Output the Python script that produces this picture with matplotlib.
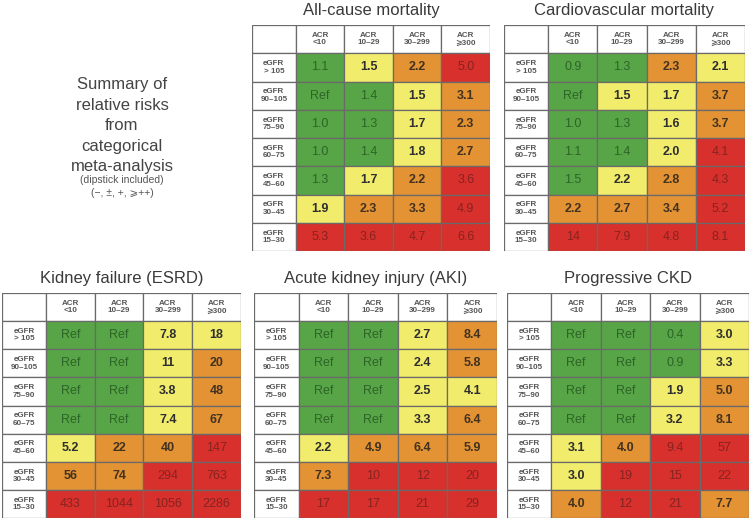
import matplotlib.pyplot as plt
from matplotlib.patches import Rectangle

plt.rcParams['font.family'] = ['Liberation Sans', 'DejaVu Sans']

col_labels = ['ACR\n<10', 'ACR\n10–29', 'ACR\n30–299', 'ACR\n⩾300']
row_labels = ['eGFR\n> 105', 'eGFR\n90–105', 'eGFR\n75–90', 'eGFR\n60–75',
              'eGFR\n45–60', 'eGFR\n30–45', 'eGFR\n15–30']

titles = ['All-cause mortality', 'Cardiovascular mortality', 'Kidney failure (ESRD)',
          'Acute kidney injury (AKI)', 'Progressive CKD']

allcause_vals = [['1.1', '1.5', '2.2', '5.0'],
                 ['Ref', '1.4', '1.5', '3.1'],
                 ['1.0', '1.3', '1.7', '2.3'],
                 ['1.0', '1.4', '1.8', '2.7'],
                 ['1.3', '1.7', '2.2', '3.6'],
                 ['1.9', '2.3', '3.3', '4.9'],
                 ['5.3', '3.6', '4.7', '6.6']]
allcause_cat = ['gyor', 'ggyo', 'ggyo', 'ggyo', 'gyor', 'yoor', 'rrrr']

cardio_vals = [['0.9', '1.3', '2.3', '2.1'],
               ['Ref', '1.5', '1.7', '3.7'],
               ['1.0', '1.3', '1.6', '3.7'],
               ['1.1', '1.4', '2.0', '4.1'],
               ['1.5', '2.2', '2.8', '4.3'],
               ['2.2', '2.7', '3.4', '5.2'],
               ['14', '7.9', '4.8', '8.1']]
cardio_cat = ['ggoy', 'gyyo', 'ggyo', 'ggyr', 'gyor', 'ooor', 'rrrr']

esrd_vals = [['Ref', 'Ref', '7.8', '18'],
             ['Ref', 'Ref', '11', '20'],
             ['Ref', 'Ref', '3.8', '48'],
             ['Ref', 'Ref', '7.4', '67'],
             ['5.2', '22', '40', '147'],
             ['56', '74', '294', '763'],
             ['433', '1044', '1056', '2286']]
esrd_cat = ['ggyy', 'ggyo', 'ggyo', 'ggyo', 'yoor', 'oorr', 'rrrr']

aki_vals = [['Ref', 'Ref', '2.7', '8.4'],
            ['Ref', 'Ref', '2.4', '5.8'],
            ['Ref', 'Ref', '2.5', '4.1'],
            ['Ref', 'Ref', '3.3', '6.4'],
            ['2.2', '4.9', '6.4', '5.9'],
            ['7.3', '10', '12', '20'],
            ['17', '17', '21', '29']]
aki_cat = ['ggyo', 'ggyo', 'ggyy', 'ggyo', 'yooo', 'orrr', 'rrrr']

ckd_vals = [['Ref', 'Ref', '0.4', '3.0'],
            ['Ref', 'Ref', '0.9', '3.3'],
            ['Ref', 'Ref', '1.9', '5.0'],
            ['Ref', 'Ref', '3.2', '8.1'],
            ['3.1', '4.0', '9.4', '57'],
            ['3.0', '19', '15', '22'],
            ['4.0', '12', '21', '7.7']]
ckd_cat = ['gggy', 'gggy', 'ggyo', 'ggyo', 'yorr', 'yrrr', 'orro']

fill = {'g': '#58a547', 'y': '#f1ec6c', 'o': '#e39334', 'r': '#d8302c'}
ink = {'g': '#2d6427', 'y': '#2e2e2e', 'o': '#42321f', 'r': '#862320'}
weight = {'g': 'normal', 'y': 'bold', 'o': 'bold', 'r': 'normal'}

W, H = 750, 521
# table boxes in pixels: left, top, width, height
boxes = [(252, 25, 238, 226), (504, 25, 241, 226),
         (2, 293, 239, 225), (254, 293, 243, 225), (507, 293, 242, 225)]
tables = [(allcause_vals, allcause_cat), (cardio_vals, cardio_cat),
          (esrd_vals, esrd_cat), (aki_vals, aki_cat), (ckd_vals, ckd_cat)]

fig = plt.figure(figsize=(7.5, 5.21), dpi=100)

lab_w = 0.9
edges = [0, lab_w] + [lab_w + i + 1 for i in range(4)]

for (left, top, w, h), (vals, cats), title in zip(boxes, tables, titles):
    ax = fig.add_axes([left / W, 1 - (top + h) / H, w / W, h / H])
    ax.set_xlim(0, edges[-1])
    ax.set_ylim(len(row_labels) + 1, 0)
    ax.axis('off')
    line = dict(edgecolor='#6a6a6a', linewidth=0.9)
    # header row
    ax.add_patch(Rectangle((0, 0), lab_w, 1, facecolor='white', **line))
    for j, lab in enumerate(col_labels):
        ax.add_patch(Rectangle((edges[j + 1], 0), 1, 1, facecolor='white', **line))
        ax.text(edges[j + 1] + 0.5, 0.5, lab, ha='center', va='center',
                fontsize=5.8, fontweight='bold', color='#555555', linespacing=1.1)
    for i, rlab in enumerate(row_labels):
        y = i + 1
        ax.add_patch(Rectangle((0, y), lab_w, 1, facecolor='white', **line))
        ax.text(lab_w / 2, y + 0.5, rlab, ha='center', va='center',
                fontsize=5.8, fontweight='bold', color='#555555', linespacing=1.1)
        for j in range(4):
            c = cats[i][j]
            ax.add_patch(Rectangle((edges[j + 1], y), 1, 1, facecolor=fill[c], **line))
            ax.text(edges[j + 1] + 0.5, y + 0.5, vals[i][j], ha='center', va='center',
                    fontsize=9, color=ink[c], fontweight=weight[c])
    fig.text((left + w / 2) / W, 1 - (top - 14) / H, title, ha='center', va='center',
             fontsize=12, color='#3a3a3a')

summary = ['Summary of', 'relative risks', 'from', 'categorical', 'meta-analysis']
ys = [85, 106, 126, 146, 166]
for s, y in zip(summary, ys):
    fig.text(122 / W, 1 - y / H, s, ha='center', va='center', fontsize=12, color='#444444')
fig.text(122 / W, 1 - 180 / H, '(dipstick included)', ha='center', va='center',
         fontsize=7.5, color='#555555')
fig.text(122 / W, 1 - 193 / H, '(−, ±, +, ⩾++)', ha='center', va='center',
         fontsize=7.5, color='#555555')

plt.savefig('out.png', dpi=100)
